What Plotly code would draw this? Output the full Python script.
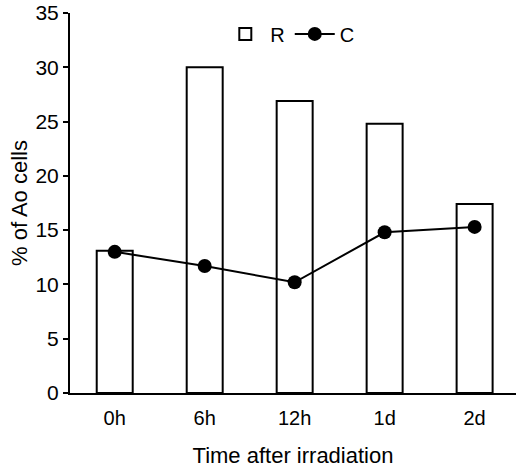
import plotly.graph_objects as go

categories = ["0h", "6h", "12h", "1d", "2d"]
r_values = [13.1, 30.0, 26.9, 24.8, 17.4]
c_values = [13.0, 11.7, 10.2, 14.8, 15.3]
y_ticks = [0, 5, 10, 15, 20, 25, 30, 35]

FONT = "Liberation Sans, Arial, Helvetica, sans-serif"

fig = go.Figure()
fig.add_trace(go.Bar(
    x=categories, y=r_values, name="R",
    marker=dict(color="white", line=dict(color="black", width=2)),
))
fig.add_trace(go.Scatter(
    x=categories, y=c_values, name="C", mode="lines+markers",
    line=dict(color="black", width=2),
    marker=dict(color="black", size=14, symbol="circle"),
))

fig.update_layout(
    width=516, height=470,
    margin=dict(l=70, r=0, t=13, b=77),
    paper_bgcolor="white", plot_bgcolor="white",
    font=dict(family=FONT, size=20, color="black"),
    bargap=0.6,
    showlegend=True,
    legend=dict(orientation="h", x=0.337, xanchor="left", y=0.945, yanchor="middle",
                font=dict(size=20), bgcolor="rgba(0,0,0,0)", itemwidth=40,
                traceorder="normal"),
    xaxis=dict(
        type="category", range=[-0.497, 4.46],
        showline=True, linecolor="black", linewidth=2,
        ticks="", showgrid=False, zeroline=False, automargin=False,
        ticklabelstandoff=6,
        tickfont=dict(size=20),
        title=dict(text="Time after irradiation", font=dict(size=22), standoff=20),
    ),
    yaxis=dict(
        range=[0, 35], tickvals=y_ticks,
        showline=True, linecolor="black", linewidth=2,
        ticks="outside", ticklen=5, tickwidth=2, tickcolor="black",
        showgrid=False, zeroline=False, automargin=False,
        ticklabelstandoff=0,
        tickfont=dict(size=21),
        title=dict(text="% of Ao cells", font=dict(size=22), standoff=2),
    ),
)

fig.write_html("out.html", config={"displayModeBar": False},
               post_script="document.body.style.margin='0';")
